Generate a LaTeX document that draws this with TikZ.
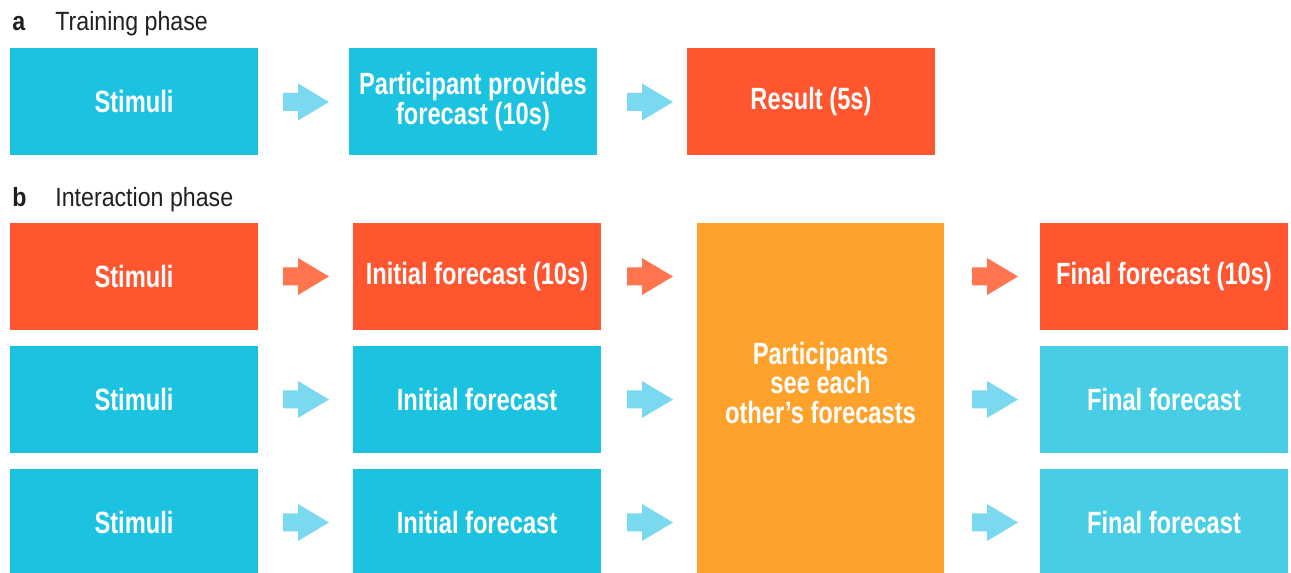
\documentclass[tikz,border=0pt]{standalone}
\usepackage{fontspec}
\setmainfont{Liberation Sans}
\newfontfamily\boxfont{Liberation Sans}[FakeStretch=0.77]
\newfontfamily\headfont{Liberation Sans}[FakeStretch=0.88]

\definecolor{cyanbox}{HTML}{1CC3E1}
\definecolor{cyanlight}{HTML}{48CDE6}
\definecolor{cyanarrow}{HTML}{7AD9EE}
\definecolor{redbox}{HTML}{FF5630}
\definecolor{redarrow}{HTML}{FF7550}
\definecolor{orangebox}{HTML}{FFA22B}
\definecolor{headtext}{HTML}{231F20}

\tikzset{
  box/.style={rectangle, minimum width=4.96cm, minimum height=2.14cm, inner sep=0pt,
    text=white, align=center, font=\boxfont\bfseries\fontsize{17.5}{17}\selectfont},
  bluebox/.style={box, fill=cyanbox},
  lightbox/.style={box, fill=cyanlight},
  redbox/.style={box, fill=redbox},
  pics/fwd/.style={code={
    \fill[#1] (-23,-9) -- (-8,-9) -- (-8,-18.5) -- (23,0) -- (-8,18.5) -- (-8,9) -- (-23,9) -- cycle;
  }},
  phase/.style={anchor=base west, inner sep=0pt, text=headtext, font=\headfont\fontsize{15}{17}\selectfont}
}

\begin{document}
\begin{tikzpicture}[x=0.02cm, y=-0.02cm]
\clip (0,0) rectangle (1291,573);
\fill[white] (0,0) rectangle (1291,573);
% a) training phase
\node[phase, font=\headfont\bfseries\fontsize{15}{17}\selectfont] (label_a) at (12,31) {a};
\node[phase] (title_a) at (55,31) {Training phase};
\node[bluebox] (train_stim) at (134,101.5) {Stimuli};
\node[bluebox] (train_fc) at (473,101.5) {Participant provides\\forecast (10s)};
\node[redbox] (train_res) at (811,101.5) {Result (5s)};
\pic at (306,102) {fwd=cyanarrow};
\pic at (650,102) {fwd=cyanarrow};
% b) interaction phase
\node[phase, font=\headfont\bfseries\fontsize{15}{17}\selectfont] (label_b) at (12,207) {b};
\node[phase] (title_b) at (55,207) {Interaction phase};
\node[box, fill=orangebox, minimum height=7.06cm] (share) at (820.5,399.5) {};
\node[box, fill=none] (share_txt) at (820.5,383) {Participants\\see each\\other’s forecasts};
% row 1
\node[redbox] (stim1) at (134,276.5) {Stimuli};
\node[redbox] (init1) at (477,276.5) {Initial forecast (10s)};
\node[redbox] (final1) at (1164,276.5) {Final forecast (10s)};
% row 2
\node[bluebox] (stim2) at (134,399.5) {Stimuli};
\node[bluebox] (init2) at (477,399.5) {Initial forecast};
\node[lightbox] (final2) at (1164,399.5) {Final forecast};
% row 3
\node[bluebox] (stim3) at (134,522.5) {Stimuli};
\node[bluebox] (init3) at (477,522.5) {Initial forecast};
\node[lightbox] (final3) at (1164,522.5) {Final forecast};
% arrows between the columns
\foreach \y/\c in {276.5/redarrow, 399.5/cyanarrow, 522.5/cyanarrow}{
  \pic at (306,\y) {fwd=\c};
  \pic at (650,\y) {fwd=\c};
  \pic at (995,\y) {fwd=\c};
}
\end{tikzpicture}
\end{document}
